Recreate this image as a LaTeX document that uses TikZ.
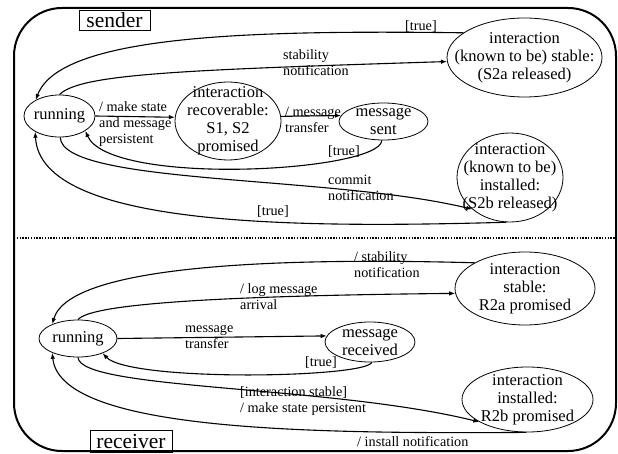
\documentclass[tikz,border=0pt]{standalone}
\usepackage{fontspec}
\setmainfont{Liberation Serif}
\usetikzlibrary{shapes.geometric,arrows.meta}
\begin{document}
\begin{tikzpicture}[x=1pt,y=-1pt,
  st/.style={ellipse,draw,line width=0.8pt,inner sep=0pt},
  stxt/.style={align=center,inner sep=0pt,font=\fontsize{16.5}{18}\selectfont},
  lbl/.style={anchor=base west,inner sep=0pt,align=left,font=\fontsize{14.2}{16}\selectfont},
  tr/.style={line width=1.1pt,-{Latex[length=6pt,width=4.5pt]}},
  boxlbl/.style={draw,line width=0.8pt,inner sep=0pt,font=\fontsize{21.5}{24}\selectfont}
]
\useasboundingbox (0,0) rectangle (618,454);
% frame
\draw[line width=2pt,rounded corners=48pt] (14,8) rectangle (616,451);
\draw[line width=1.3pt,dash pattern=on 1.4pt off 1.4pt] (14,238) -- (616,238);
\node[boxlbl,minimum width=71pt,minimum height=20pt] (sl) at (114.5,20) {sender};
\node[boxlbl,minimum width=82pt,minimum height=22pt] (rl) at (131,441) {receiver};

% sender states
\node[st,minimum width=71pt,minimum height=42pt,label={[stxt]center:running}] (S) at (59.5,116) {};
\node[st,minimum width=106pt,minimum height=78pt,label={[stxt]center:{interaction\\recoverable:\\S1, S2\\promised}}] (Rc) at (228,121) {};
\node[st,minimum width=89pt,minimum height=37pt,label={[stxt]center:{message\\sent}}] (Ms) at (383.5,121.5) {};
\node[st,minimum width=155pt,minimum height=79pt,label={[stxt]center:{interaction\\(known to be) stable:\\(S2a released)}}] (St) at (524.5,57.5) {};
\node[st,minimum width=106pt,minimum height=89pt,label={[stxt]center:{interaction\\(known to be)\\installed:\\(S2b released)}}] (In) at (510,177.5) {};

% receiver states
\node[st,minimum width=78pt,minimum height=37pt,label={[stxt]center:running}] (Rr) at (78,338.5) {};
\node[st,minimum width=140pt,minimum height=73pt,label={[stxt]center:{interaction\\stable:\\R2a promised}}] (Ra) at (525,288.5) {};
\node[st,minimum width=90pt,minimum height=40pt,label={[stxt]center:{message\\received}}] (Mr) at (370,342) {};
\node[st,minimum width=131pt,minimum height=65pt,label={[stxt]center:{interaction\\installed:\\R2b promised}}] (Rb) at (527.5,399.5) {};

% sender transitions
\draw[tr] (St.158) .. controls (250,30) and (60,35) .. (S.146);
\draw[tr] (S.90) .. controls (80,74) and (180,70) .. (St.183);
\draw[tr] (S.east) -- (Rc.176);
\draw[tr] (Rc.5) -- (Ms.172);
\draw[tr] (Ms.-95) .. controls (380,172) and (110,187) .. (S.-30);
\draw[tr] (S.-88) .. controls (62,185) and (330,175) .. (In.220);
\draw[tr] (In.-95) .. controls (300,228) and (40,228) .. (S.213);

\node[lbl] (l1) at (405,31) {[true]};
\node[lbl] (l2) at (283,76) {stability\\notification};
\node[lbl] (l3) at (99,144) {/ make state\\and message\\persistent};
\node[lbl] (l4) at (285,133) {/ message\\transfer};
\node[lbl] (l5) at (328,156) {[true]};
\node[lbl] (l6) at (328,201) {commit\\notification};
\node[lbl] (l7) at (257,216) {[true]};

% receiver transitions
\draw[tr] (Ra.153) .. controls (300,258) and (70,262) .. (Rr.151);
\draw[tr] (Rr.90) .. controls (90,305) and (200,296) .. (Ra.184);
\draw[tr] (Rr.east) -- (Mr.172);
\draw[tr] (Mr.-85) .. controls (365,378) and (130,382) .. (Rr.-31);
\draw[tr] (Rr.-90) .. controls (80,390) and (330,385) .. (Rb.205);
\draw[tr] (Rb.-92) .. controls (300,434) and (60,430) .. (Rr.209);

\node[lbl] (m1) at (354,277) {/ stability\\notification};
\node[lbl] (m2) at (240,309) {/ log message\\arrival};
\node[lbl] (m3) at (185,348) {message\\transfer};
\node[lbl] (m4) at (305,366) {[true]};
\node[lbl] (m5) at (240,412) {[interaction stable]\\/ make state persistent};
\node[lbl] (m6) at (357,446) {/ install notification};
\end{tikzpicture}
\end{document}
